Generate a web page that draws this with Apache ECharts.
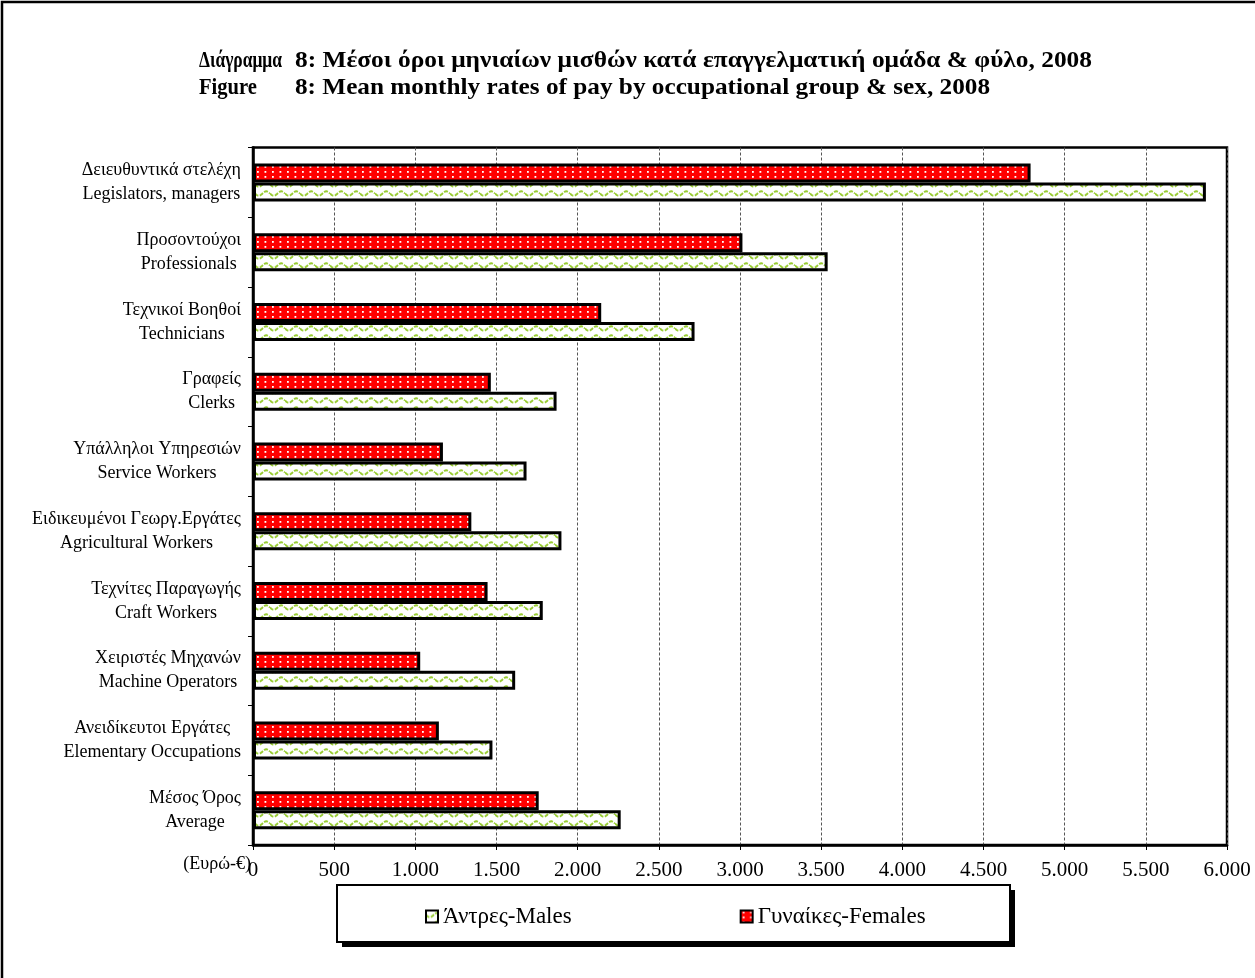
<!DOCTYPE html>
<html><head><meta charset="utf-8">
<script src="https://cdn.jsdelivr.net/npm/echarts@6/dist/echarts.min.js"></script>
<style>html,body{margin:0;padding:0;background:#fff}#c{width:1255px;height:978px}</style>
</head><body><div id="c"></div><script>
const categoriesGr = ['Δειευθυντικά στελέχη','Προσοντούχοι','Τεχνικοί Βοηθοί','Γραφείς','Υπάλληλοι Υπηρεσιών','Ειδικευμένοι Γεωργ.Εργάτες','Τεχνίτες Παραγωγής','Χειριστές Μηχανών','Ανειδίκευτοι Εργάτες','Μέσος Όρος'];
const categoriesEn = ['Legislators, managers','Professionals','Technicians','Clerks','Service Workers','Agricultural Workers','Craft Workers','Machine Operators','Elementary Occupations','Average'];
const males   = [5870, 3540, 2720, 1870, 1685, 1900, 1785, 1615, 1475, 2265];
const females = [4790, 3015, 2145, 1465, 1170, 1345, 1445, 1030, 1145, 1760];
const seriesNames = ['Άντρες-Males', 'Γυναίκες-Females'];
const titleLine1 = ['Διάγραμμα', '8: Μέσοι όροι μηνιαίων μισθών κατά επαγγελματική ομάδα & φύλο, 2008'];
const titleLine2 = ['Figure', '8: Mean monthly rates of pay by occupational group & sex, 2008'];
const unitLabel = '(Ευρώ-€)';
const axisMin = 0, axisMax = 6000, axisStep = 500;

const FONT = '"Liberation Serif", "Times New Roman", serif';
const TFONT = 'bold 23px ' + FONT;

function measure(text, font) {
  const c = document.createElement('canvas').getContext('2d');
  c.font = font; return c.measureText(text).width;
}
function fitText(text, x, y, targetW) {
  const w = measure(text, TFONT);
  return {type: 'text', x: x, y: y, scaleX: targetW / w, scaleY: 1,
    style: {text: text, font: TFONT, fill: '#000', verticalAlign: 'middle', align: 'left'}};
}

function dotPattern() {
  const c = document.createElement('canvas'); c.width = 15; c.height = 10;
  const g = c.getContext('2d');
  g.fillStyle = '#ff0000'; g.fillRect(0, 0, 15, 10);
  g.fillStyle = '#ffffff';
  [[2, 1], [9.5, 1], [2, 6], [9.5, 6]].forEach(p => g.fillRect(p[0], p[1], 1.8, 1.8));
  return c;
}
function wavePattern() {
  const w = 15, h = 9;
  const c = document.createElement('canvas'); c.width = w; c.height = h;
  const g = c.getContext('2d');
  g.fillStyle = '#ffffff'; g.fillRect(0, 0, w, h);
  g.strokeStyle = '#99cc33'; g.lineWidth = 2;
  g.setLineDash([4, 1.5]);
  g.beginPath();
  for (let x = 0; x <= w; x += 0.5) {
    const y = 4.5 + 2.2 * Math.sin(2 * Math.PI * x / w);
    if (x === 0) g.moveTo(x, y); else g.lineTo(x, y);
  }
  g.stroke();
  return c;
}

const chart = echarts.init(document.getElementById('c'), null, {renderer: 'canvas'});
const fmt = v => String(v).replace(/\B(?=(\d{3})+(?!\d))/g, '.');

chart.setOption({
  animation: false,
  backgroundColor: '#ffffff',
  grid: {left: 253, right: 28, top: 147.5, bottom: 133, show: true, borderColor: '#000', borderWidth: 2.5, containLabel: false},
  xAxis: {
    type: 'value', min: axisMin, max: axisMax, interval: axisStep,
    axisLine: {show: true, lineStyle: {color: '#000', width: 2.5}},
    axisTick: {show: true, length: 5, lineStyle: {color: '#000', width: 1}},
    splitLine: {show: true, lineStyle: {color: '#555', width: 1, type: [3, 2]}},
    axisLabel: {color: '#000', fontFamily: FONT, fontSize: 21, margin: 15, formatter: fmt}
  },
  yAxis: {
    type: 'category', data: categoriesEn, inverse: true,
    axisLine: {show: true, lineStyle: {color: '#000', width: 2.5}},
    axisTick: {show: true, length: 5, lineStyle: {color: '#000', width: 1}},
    axisLabel: {
      margin: 12, color: '#000',
      formatter: (v, i) => '{a|' + categoriesGr[i] + '}\n{a|' + v + '}',
      rich: {a: {align: 'center', fontFamily: FONT, fontSize: 18, lineHeight: 24, color: '#000'}}
    }
  },
  legend: {
    data: seriesNames, left: 420, top: 900, itemGap: 168, itemWidth: 12, itemHeight: 12,
    icon: 'rect', itemStyle: {borderColor: '#000', borderWidth: 2},
    textStyle: {fontFamily: FONT, fontSize: 23, color: '#000'}
  },
  series: [
    {name: seriesNames[1], type: 'bar', data: females, barWidth: 19, barGap: '0%',
      itemStyle: {color: {image: dotPattern(), repeat: 'repeat'}, borderColor: '#000', borderWidth: 3}},
    {name: seriesNames[0], type: 'bar', data: males, barWidth: 19, barGap: '0%',
      itemStyle: {color: {image: wavePattern(), repeat: 'repeat'}, borderColor: '#000', borderWidth: 3}}
  ],
  graphic: [
    {type: 'rect', shape: {x: 2, y: 2, width: 1260, height: 1000}, style: {fill: null, stroke: '#000', lineWidth: 2.5}, silent: true, z: -1},
    {type: 'rect', shape: {x: 342, y: 890, width: 673, height: 57}, style: {fill: '#000'}, z: -2, silent: true},
    {type: 'rect', shape: {x: 337, y: 885, width: 673, height: 57}, style: {fill: '#fff', stroke: '#000', lineWidth: 2}, z: -1, silent: true},
    fitText(titleLine1[0], 199, 61, 83),
    fitText(titleLine1[1], 295, 61, 797),
    fitText(titleLine2[0], 199, 88, 58),
    fitText(titleLine2[1], 295, 88, 695),
    {type: 'text', x: 251, y: 864, style: {text: unitLabel, font: '18px ' + FONT, fill: '#000', align: 'right', verticalAlign: 'middle'}}
  ]
});
</script></body></html>
